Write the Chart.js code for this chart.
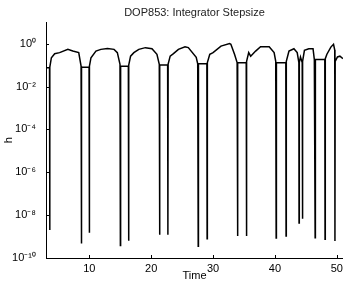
<!DOCTYPE html>
<html>
<head>
<meta charset="utf-8">
<script src="https://cdn.jsdelivr.net/npm/chart.js@4/dist/chart.umd.min.js"></script>
<style>
  html, body { margin: 0; padding: 0; background: #fff; }
  #wrap { width: 347px; height: 281px; }
</style>
</head>
<body>
<div id="wrap"><canvas id="stepChart"></canvas></div>
<script>
// Temps (abscisse) et pas d'intégration h
const times = [
    3.0, 3.57, 3.6, 3.63, 3.87, 4.4, 5.2, 6.53, 7.33, 8.29, 8.67,
    8.72, 8.76, 9.96, 10.0, 10.04, 10.27, 11.07, 11.87, 12.93, 14.0, 14.53, 14.96,
    15.02, 15.06, 16.31, 16.35, 16.39, 16.67, 17.2, 18.0, 19.07, 20.13, 20.93, 21.31,
    21.36, 21.4, 22.66, 22.7, 22.74, 23.07, 23.6, 24.4, 25.47, 26.0, 27.28, 27.52,
    27.6, 27.64, 29.0, 29.04, 29.08, 29.47, 30.0, 31.28, 32.67, 32.88, 33.47, 33.89,
    33.96, 34.0, 35.36, 35.4, 35.44, 35.76, 36.08, 36.88, 37.68, 39.07, 39.87, 40.13,
    40.2, 40.24, 41.76, 41.8, 41.84, 42.27, 43.07, 43.6, 43.87,
    43.9, 43.94, 44.13, 44.41, 44.45, 44.49, 44.77, 45.47, 46.16, 46.37,
    46.5, 46.54, 48.06, 48.1, 48.14, 48.4, 49.04, 49.47, 49.67,
    49.7, 49.74, 50.11, 50.5, 51.0
];
const stepSizes = [
    0.076, 0.076, 2.0e-9, 0.08, 0.22, 0.34, 0.38, 0.54, 0.45, 0.38, 0.089,
    4.8e-10, 0.08, 0.08, 1.5e-9, 0.09, 0.22, 0.45, 0.54, 0.60, 0.54, 0.38, 0.107,
    3.8e-10, 0.089, 0.089, 6.3e-10, 0.1, 0.26, 0.38, 0.54, 0.65, 0.58, 0.32, 0.107,
    1.2e-9, 0.10, 0.10, 1.2e-9, 0.11, 0.26, 0.34, 0.54, 0.72, 0.65, 0.23, 0.115,
    3.5e-10, 0.115, 0.115, 7.9e-10, 0.13, 0.32, 0.38, 0.77, 1.0, 0.93, 0.32, 0.13,
    1.07e-9, 0.13, 0.13, 1.07e-9, 0.15, 0.38, 0.26, 0.45, 0.72, 0.72, 0.38, 0.15,
    8.5e-10, 0.13, 0.13, 1.07e-9, 0.15, 0.45, 0.58, 0.38, 0.13,
    4.3e-9, 0.13, 0.24, 0.13, 6.8e-9, 0.15, 0.49, 0.58, 0.58, 0.18,
    8.7e-10, 0.18, 0.18, 7.4e-10, 0.2, 0.32, 0.69, 0.93, 0.5,
    6.2e-10, 0.15, 0.24, 0.26, 0.20
];
const xTicks = [10, 20, 30, 40, 50];
const yTickPowers = [-10, -8, -6, -4, -2, 0];

const SUP = { '0': '⁰', '1': '¹', '2': '²', '4': '⁴', '6': '⁶', '8': '⁸', '-': '⁻' };
function powLabel(v) {
    const p = String(Math.round(Math.log10(v)));
    return '10' + p.split('').map(c => SUP[c] || c).join('');
}

// petites graduations vers l'intérieur, façon Matlab
const innerTicks = {
    id: 'innerTicks',
    afterDraw(chart) {
        const { ctx, chartArea, scales } = chart;
        ctx.save();
        ctx.strokeStyle = '#000';
        ctx.lineWidth = 1;
        ctx.beginPath();
        xTicks.forEach(t => {
            const px = Math.round(scales.x.getPixelForValue(t)) + 0.5;
            ctx.moveTo(px, chartArea.bottom);
            ctx.lineTo(px, chartArea.bottom - 3);
        });
        yTickPowers.forEach(p => {
            const py = Math.round(scales.y.getPixelForValue(Math.pow(10, p))) + 0.5;
            ctx.moveTo(chartArea.left, py);
            ctx.lineTo(chartArea.left + 3, py);
        });
        ctx.stroke();
        ctx.restore();
    }
};

const font = { family: '"Liberation Sans", Arial, sans-serif', size: 11 };

new Chart(document.getElementById('stepChart').getContext('2d'), {
    type: 'line',
    data: {
        datasets: [{
            data: times.map((t, i) => ({ x: t, y: stepSizes[i] })),
            borderColor: '#000',
            borderWidth: 1.5,
            pointRadius: 0,
            tension: 0,
            fill: false
        }]
    },
    options: {
        responsive: true,
        maintainAspectRatio: false,
        animation: false,
        layout: { padding: { left: 0, right: 1, top: 0, bottom: 0 } },
        plugins: {
            legend: { display: false },
            tooltip: { enabled: false },
            title: {
                display: true,
                text: 'DOP853: Integrator Stepsize',
                color: '#222',
                fullSize: false,
                font: { family: font.family, size: 11, weight: 'normal' },
                padding: { top: 6, bottom: 3 }
            }
        },
        scales: {
            x: {
                type: 'linear',
                min: 3,
                max: 51,
                afterBuildTicks: scale => { scale.ticks = xTicks.map(v => ({ value: v })); },
                afterFit: scale => { scale.height = 23; },
                grid: { display: false, drawTicks: false },
                border: { display: true, color: '#000', width: 1 },
                ticks: { color: '#000', font: font, padding: 4, maxRotation: 0 },
                title: {
                    display: true,
                    text: 'Time',
                    color: '#000',
                    font: { family: font.family, size: 11, lineHeight: 1 },
                    padding: 0
                }
            },
            y: {
                type: 'logarithmic',
                min: 1e-10,
                max: 1e1,
                afterBuildTicks: scale => { scale.ticks = yTickPowers.map(p => ({ value: Math.pow(10, p) })); },
                afterFit: scale => { scale.width = 46; },
                grid: { display: false, drawTicks: false },
                border: { display: true, color: '#000', width: 1 },
                ticks: { color: '#000', font: font, padding: 10, callback: v => powLabel(v) },
                title: {
                    display: true,
                    text: 'h',
                    color: '#000',
                    font: { family: font.family, size: 11 },
                    padding: 2
                }
            }
        }
    },
    plugins: [innerTicks]
});
</script>
</body>
</html>
